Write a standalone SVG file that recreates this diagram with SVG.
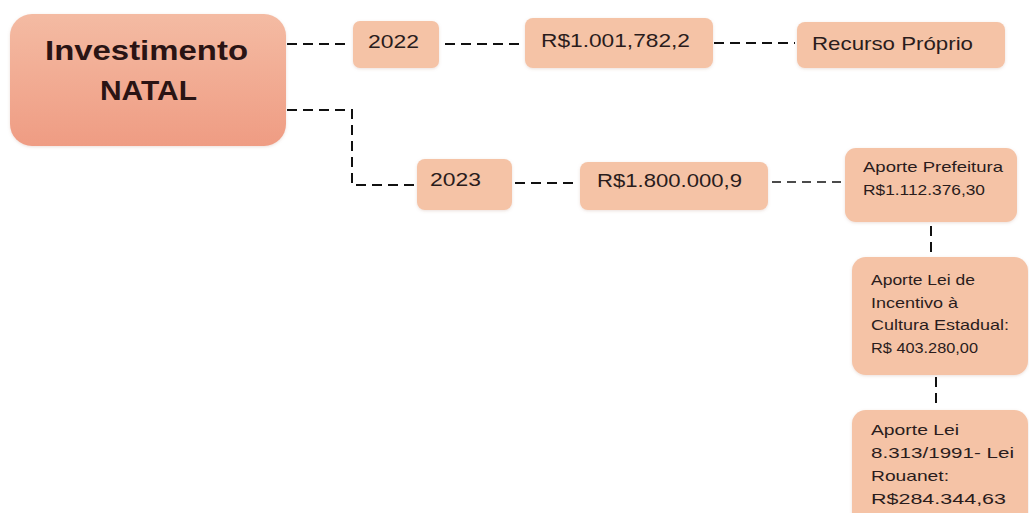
<svg xmlns="http://www.w3.org/2000/svg" width="1029" height="513" viewBox="0 0 1029 513">
<defs>
<linearGradient id="mainGrad" x1="0" y1="0" x2="0" y2="1">
<stop offset="0" stop-color="#f4bba3"/>
<stop offset="1" stop-color="#ef9c83"/>
</linearGradient>
<filter id="sh" x="-10%" y="-10%" width="120%" height="130%">
<feDropShadow dx="0" dy="1" stdDeviation="1.5" flood-color="#b08070" flood-opacity="0.25"/>
</filter>
<style>
.box{fill:#f5c3a6;filter:url(#sh)}
.t{font-family:"Liberation Sans",Arial,sans-serif;fill:#2a1c1c}
.big{font-size:19px}
.sm{font-size:15px}
.main{font-size:27px;font-weight:bold;fill:#2a1414}
.c{fill:none;stroke:#111;stroke-width:2;stroke-dasharray:10 6}
.c2{fill:none;stroke:#111;stroke-width:1.5;stroke-dasharray:9 6}
</style>
</defs>
<rect width="1029" height="513" fill="#ffffff"/>
<g id="connectors">
<path class="c" d="M287 44 H350"/>
<path class="c" d="M445 44 H523"/>
<path class="c" d="M714 43 H795"/>
<path class="c" d="M287 110 H352 V185 H415"/>
<path class="c" d="M515 183 H578"/>
<path class="c2" d="M772 182 H843"/>
<path class="c" d="M931 226 V254"/>
<path class="c" d="M936 377 V409"/>
</g>
<g id="node-investimento">
<rect x="10" y="14" width="276" height="132" rx="22" fill="url(#mainGrad)" filter="url(#sh)"/>
<text class="t main" x="45" y="60" textLength="203" lengthAdjust="spacingAndGlyphs">Investimento</text>
<text class="t main" x="100" y="100" textLength="97" lengthAdjust="spacingAndGlyphs">NATAL</text>
</g>
<g id="node-2022">
<rect class="box" x="353" y="21" width="86" height="47" rx="7"/>
<text class="t big" x="368" y="48" textLength="51" lengthAdjust="spacingAndGlyphs">2022</text>
</g>
<g id="node-valor2022">
<rect class="box" x="525" y="18" width="188" height="50" rx="8"/>
<text class="t big" x="541" y="47" textLength="149" lengthAdjust="spacingAndGlyphs">R$1.001,782,2</text>
</g>
<g id="node-recurso">
<rect class="box" x="797" y="22" width="208" height="46" rx="8"/>
<text class="t big" x="812" y="50" textLength="161" lengthAdjust="spacingAndGlyphs">Recurso Próprio</text>
</g>
<g id="node-2023">
<rect class="box" x="417" y="159" width="95" height="51" rx="8"/>
<text class="t big" x="430" y="186" textLength="51" lengthAdjust="spacingAndGlyphs">2023</text>
</g>
<g id="node-valor2023">
<rect class="box" x="580" y="162" width="188" height="48" rx="8"/>
<text class="t big" x="597" y="187" textLength="145" lengthAdjust="spacingAndGlyphs">R$1.800.000,9</text>
</g>
<g id="node-prefeitura">
<rect class="box" x="845" y="148" width="172" height="74" rx="11"/>
<text class="t sm" x="863" y="172" textLength="140" lengthAdjust="spacingAndGlyphs">Aporte Prefeitura</text>
<text class="t sm" x="863" y="195" textLength="122" lengthAdjust="spacingAndGlyphs">R$1.112.376,30</text>
</g>
<g id="node-incentivo">
<rect class="box" x="852" y="257" width="176" height="118" rx="14"/>
<text class="t sm" x="871" y="285" textLength="104" lengthAdjust="spacingAndGlyphs">Aporte Lei de</text>
<text class="t sm" x="871" y="308" textLength="87" lengthAdjust="spacingAndGlyphs">Incentivo à</text>
<text class="t sm" x="871" y="330" textLength="138" lengthAdjust="spacingAndGlyphs">Cultura Estadual:</text>
<text class="t sm" x="871" y="353" textLength="107" lengthAdjust="spacingAndGlyphs">R$ 403.280,00</text>
</g>
<g id="node-rouanet">
<rect class="box" x="852" y="410" width="176" height="118" rx="14"/>
<text class="t sm" x="871" y="435" textLength="88" lengthAdjust="spacingAndGlyphs">Aporte Lei</text>
<text class="t sm" x="871" y="458" textLength="143" lengthAdjust="spacingAndGlyphs">8.313/1991- Lei</text>
<text class="t sm" x="871" y="481" textLength="78" lengthAdjust="spacingAndGlyphs">Rouanet:</text>
<text class="t sm" x="871" y="504" textLength="135" lengthAdjust="spacingAndGlyphs">R$284.344,63</text>
</g>
</svg>
